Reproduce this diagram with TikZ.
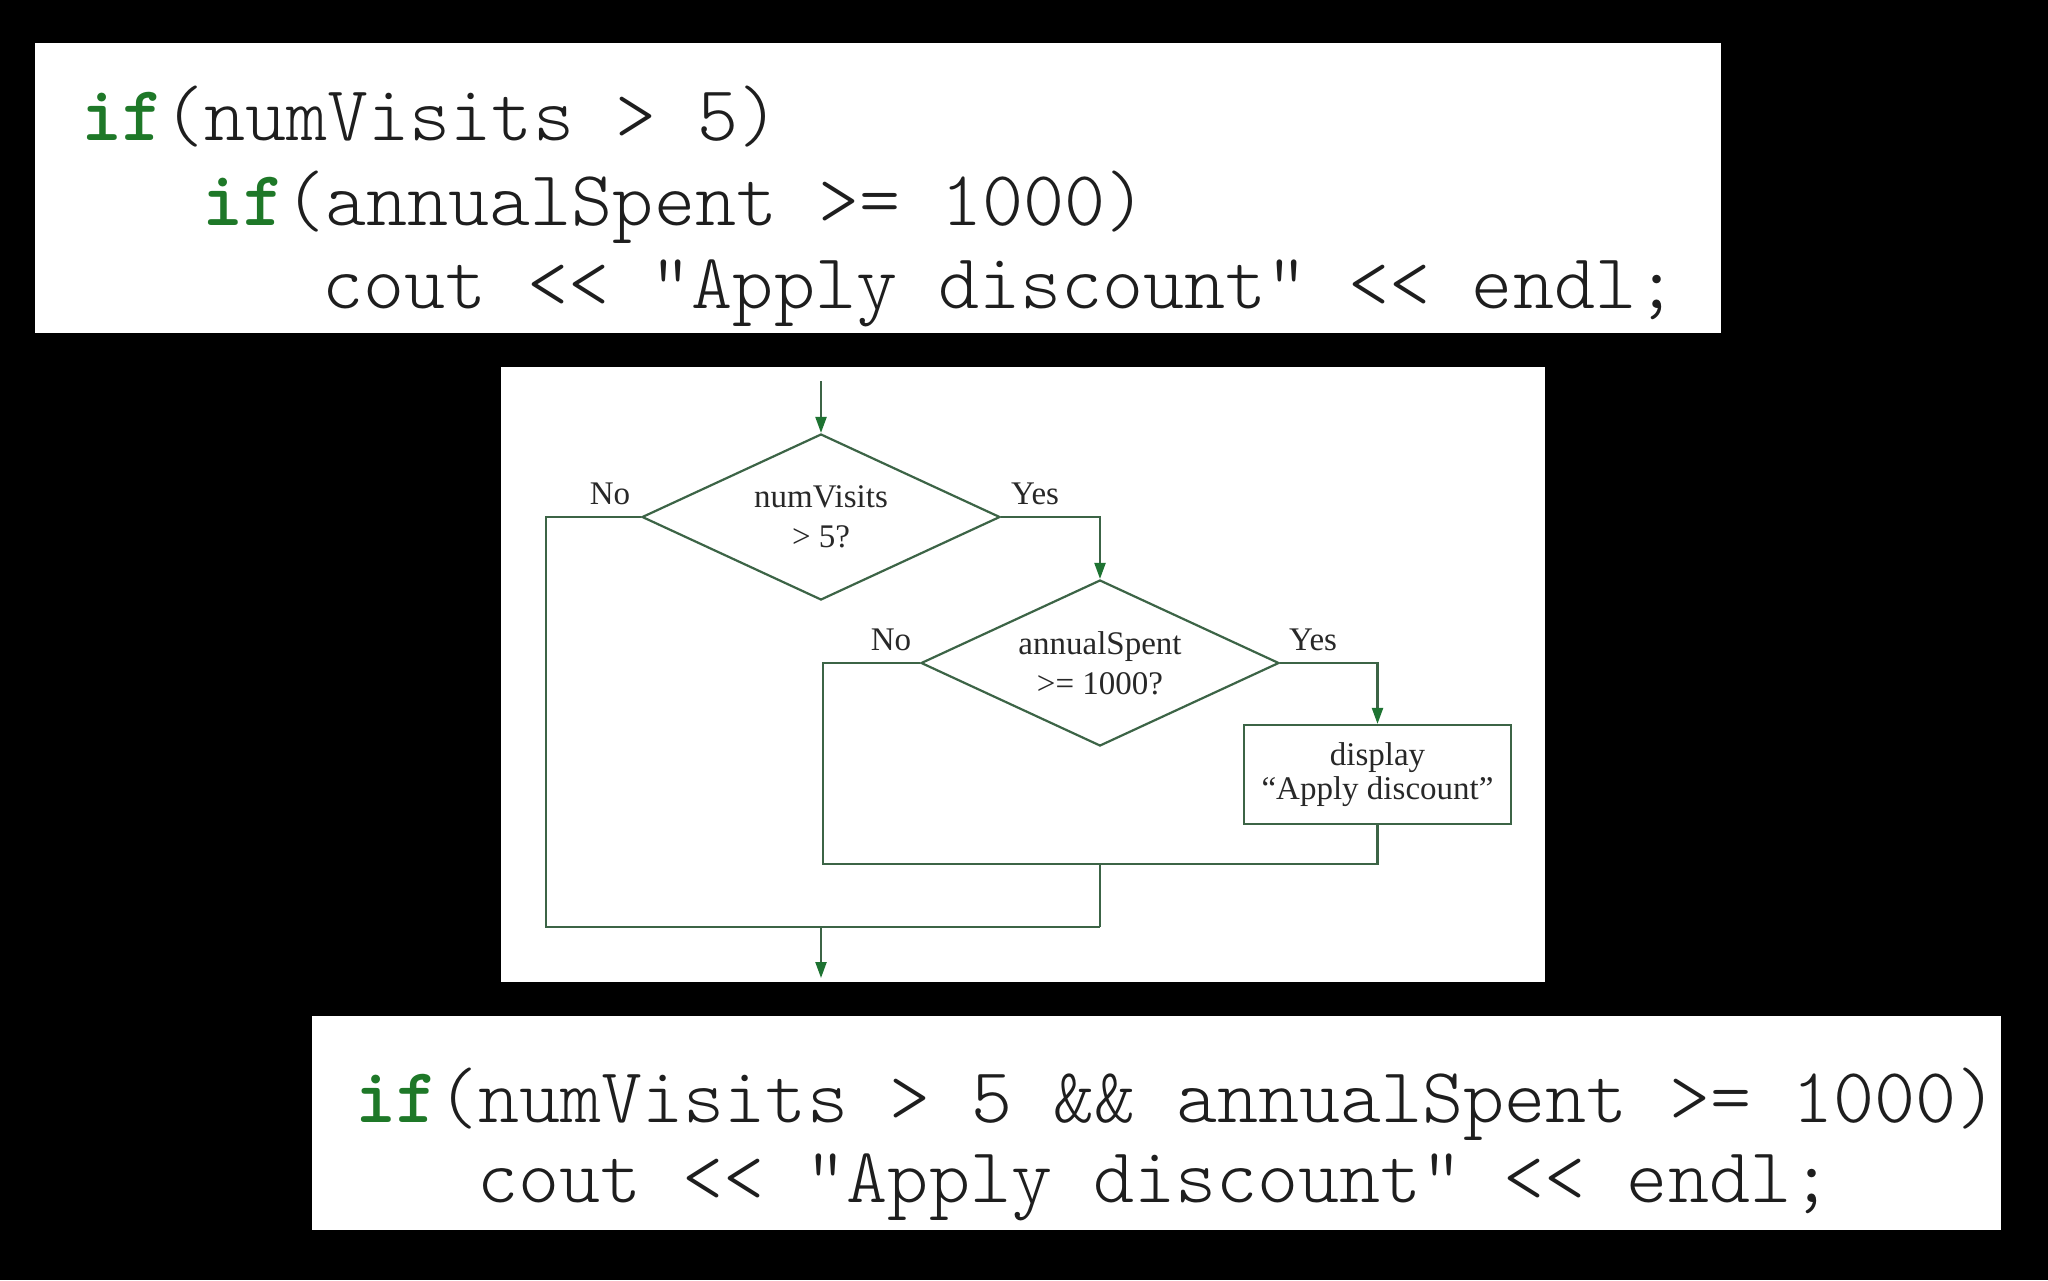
\documentclass[tikz,border=0pt]{standalone}
\usepackage{fontspec}
\newfontfamily\fcfont{Liberation Serif}
\usetikzlibrary{shapes.geometric,arrows.meta}
\definecolor{codegreen}{RGB}{30,120,40}
\definecolor{codeink}{RGB}{30,30,30}
\definecolor{flowline}{RGB}{60,100,70}
\definecolor{tipgreen}{RGB}{30,115,50}
\definecolor{fctext}{RGB}{40,40,40}
\begin{document}
\begin{tikzpicture}[x=0.5pt,y=-0.5pt,
  codeline/.style={anchor=base west, inner sep=0pt, font=\fontsize{39.1pt}{46pt}\ttfamily\fontseries{l}\selectfont, text=codeink},
  fcline/.style={draw=flowline, line width=1.1pt},
  fcarrow/.style={fcline, -{Triangle[length=8pt,width=5.5pt,color=tipgreen]}},
  decision/.style={diamond, aspect=2.16, draw=flowline, line width=1.1pt, minimum width=179pt, minimum height=83pt, inner sep=0pt, align=center, font=\fcfont\fontsize{16.5pt}{20pt}\selectfont, text=fctext},
  action/.style={rectangle, draw=flowline, line width=1.1pt, minimum width=133.5pt, minimum height=49.5pt, inner sep=0pt, align=center, font=\fcfont\fontsize{16.5pt}{17pt}\selectfont, text=fctext},
  lbl/.style={font=\fcfont\fontsize{16.5pt}{20pt}\selectfont, text=fctext, inner sep=0pt}
]
\fill[black] (0,0) rectangle (2048,1280);
\useasboundingbox (0,0) rectangle (2048,1280);
% panels
\fill[white] (35,43) rectangle (1721,333);
\fill[white] (501,367) rectangle (1545,982);
\fill[white] (312,1016) rectangle (2001,1230);

% top code
\node[codeline] (t1) at (81,140) {{\bfseries\color{codegreen}if}(numVisits > 5)};
\node[codeline] (t2) at (202,225) {{\bfseries\color{codegreen}if}(annualSpent >= 1000)};
\node[codeline] (t3) at (322,308) {cout <{}< "Apply discount" <{}< endl;};

% flowchart
\node[decision] (d1) at (821,517) {numVisits\\> 5?};
\node[decision] (d2) at (1100,663) {annualSpent\\>= 1000?};
\node[action] (disp) at (1377.5,774.5) {display\\“Apply discount”};
\coordinate (start) at (821,381);
\coordinate (lc) at (546,517);
\coordinate (l2) at (823,663);
\coordinate (jn2) at (1100,864);
\coordinate (jn1) at (1100,927);
\coordinate (ex) at (821,927);
\coordinate (fin) at (821,978);

\draw[fcarrow] (start) -- (d1.north);
\draw[fcarrow] (d1.east) -| (d2.north);
\draw[fcarrow] (d2.east) -| (disp.north);
\draw[fcline] (d1.west) -- (lc) |- (jn1);
\draw[fcline] (d2.west) -- (l2) |- (disp.south |- jn2) -- (disp.south);
\draw[fcline] (jn2) -- (jn1);
\draw[fcarrow] (ex) -- (fin);

\node[lbl] (no1) at (610,494) {No};
\node[lbl] (yes1) at (1035,494) {Yes};
\node[lbl] (no2) at (891,640) {No};
\node[lbl] (yes2) at (1313,640) {Yes};

% bottom code
\node[codeline] (b1) at (355,1122) {{\bfseries\color{codegreen}if}(numVisits > 5 \&\& annualSpent >= 1000)};
\node[codeline] (b2) at (477,1202) {cout <{}< "Apply discount" <{}< endl;};
\end{tikzpicture}
\end{document}
